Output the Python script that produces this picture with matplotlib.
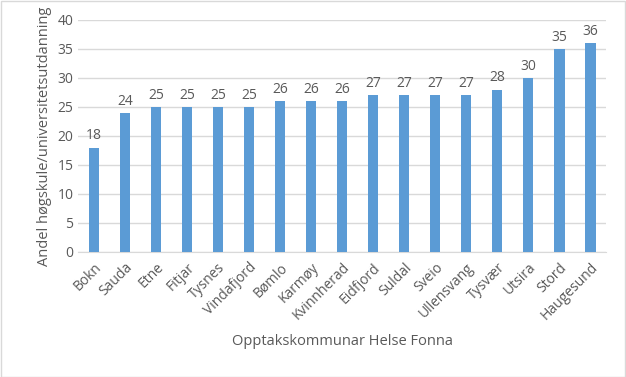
import matplotlib.pyplot as plt

# kommunar og andel med høgskule/universitetsutdanning
kommunar = ["Bokn", "Sauda", "Etne", "Fitjar", "Tysnes", "Vindafjord", "Bømlo",
            "Karmøy", "Kvinnherad", "Eidfjord", "Suldal", "Sveio", "Ullensvang",
            "Tysvær", "Utsira", "Stord", "Haugesund"]
andel = [18, 24, 25, 25, 25, 25, 26, 26, 26, 27, 27, 27, 27, 28, 30, 35, 36]

plt.rcParams['font.family'] = ['Open Sans', 'DejaVu Sans']
tekstfarge = '#595959'

fig = plt.figure(figsize=(6.26, 3.77), dpi=100)
ax = fig.add_axes([0.125, 0.332, 0.843, 0.615])

x = range(len(kommunar))
stolpar = ax.bar(x, andel, width=0.33, color='#5B9BD5', zorder=3)
ax.bar_label(stolpar, padding=3, fontsize=10, color=tekstfarge)

ax.set_xlim(-0.5, len(kommunar) - 0.5)
ax.set_ylim(0, 40)
ax.set_yticks(range(0, 41, 5))
ax.set_xticks(list(x))
ax.set_xticklabels(kommunar, rotation=45, ha='right', rotation_mode='anchor')
ax.tick_params(axis='both', length=0, labelsize=10, colors=tekstfarge)
ax.tick_params(axis='x', pad=6)
ax.grid(axis='y', color='#D9D9D9', linewidth=1, zorder=0)

for side in ['top', 'right', 'left']:
    ax.spines[side].set_visible(False)
ax.spines['bottom'].set_color('#D9D9D9')

ax.set_ylabel("Andel høgskule/universitetsutdanning", fontsize=10.5, color=tekstfarge)
ax.set_xlabel("Opptakskommunar Helse Fonna", fontsize=10.5, color=tekstfarge, labelpad=8)

# ramme rundt figuren
fig.patches.append(plt.Rectangle((0.001, 0.001), 0.997, 0.997, transform=fig.transFigure,
                                 fill=False, edgecolor='#D9D9D9', linewidth=1))

fig.savefig("out.png", dpi=100)
